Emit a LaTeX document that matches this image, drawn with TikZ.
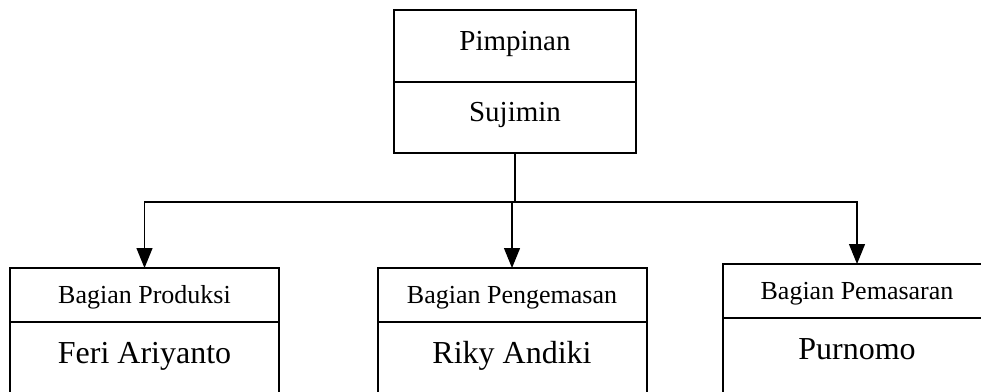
\documentclass[tikz,border=0pt]{standalone}
\usepackage{fontspec}
\setmainfont{Liberation Serif}
\usetikzlibrary{arrows.meta}

\begin{document}
\begin{tikzpicture}[x=1pt,y=-1pt,
  cell/.style={draw,line width=2pt,inner xsep=0pt,inner ysep=0pt,outer sep=0pt,anchor=north},
  topcell/.style={cell,minimum width=242pt,font=\fontsize{29}{34}\selectfont,
    text height=40pt,text depth=31.5pt},
  headcell/.style={cell,minimum width=269pt,font=\fontsize{26}{30}\selectfont,
    text height=35pt,text depth=19pt},
  namecell/.style={cell,minimum width=269pt,font=\fontsize{32}{38}\selectfont,
    text height=41pt,text depth=40pt},
  link/.style={line width=1.2pt},
  linkarrow/.style={link,-{Triangle[width=16pt,length=20pt]}}]
  \useasboundingbox (0,0) rectangle (981,391);
  \clip (0,0) rectangle (981,391);

  % pimpinan
  \node[topcell] (pimpinan) at (515,10) {Pimpinan};
  \node[topcell] (sujimin) at (pimpinan.south) {Sujimin};

  % bagian-bagian
  \node[headcell] (produksi) at (144.5,268) {Bagian Produksi};
  \node[namecell] (feri) at (produksi.south) {Feri Ariyanto};
  \node[headcell] (pengemasan) at (512,268) {Bagian Pengemasan};
  \node[namecell] (riky) at (pengemasan.south) {Riky Andiki};
  \node[headcell] (pemasaran) at (857,264) {Bagian Pemasaran};
  \node[namecell] (purnomo) at (pemasaran.south) {Purnomo};

  % garis komando
  \coordinate (cabang) at (sujimin.south |- 0,202);
  \draw[link] (sujimin.south) -- (cabang);
  \draw[linkarrow] (cabang) -| (produksi.north);
  \draw[linkarrow] (cabang) -| (pengemasan.north);
  \draw[linkarrow] (cabang) -| (pemasaran.north);
\end{tikzpicture}
\end{document}
